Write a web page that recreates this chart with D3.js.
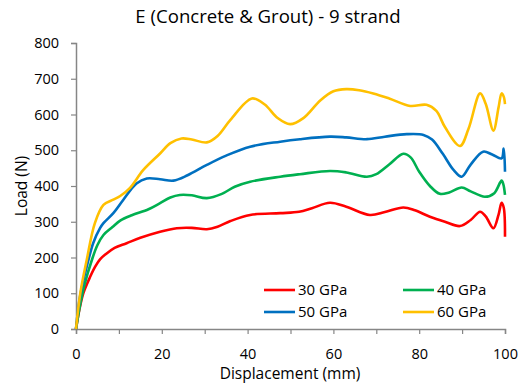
<!DOCTYPE html>
<html>
<head>
<meta charset="utf-8">
<script src="https://cdn.jsdelivr.net/npm/d3@7"></script>
<style>
  body { margin: 0; background: #fff; }
  text { font-family: "Open Sans", Lato, sans-serif; fill: #000; }
</style>
</head>
<body>
<div id="chart"></div>
<script>
// displacement (mm) / load (N)
var x30 = [0, 0.8, 1.7, 3.3, 4.5, 5.6, 7, 9, 11.8, 15, 19.6, 23.5, 27, 30.5, 33, 36, 40.6, 47.6, 52, 55, 59.2, 63, 68.5, 72, 76.3, 79, 82.5, 86, 89.5, 92, 94.2, 95.5, 97.3, 98.5, 99.2, 99.7, 100];
var y30 = [0, 55, 100, 146, 175, 195, 210, 227, 240, 255, 272, 282, 283, 279, 286, 302, 319, 324, 328, 338, 353, 342, 319, 327, 340, 332, 314, 300, 288, 305, 328, 315, 282, 320, 353, 340, 258];

var x40 = [0, 1, 2, 3.7, 5, 6.4, 8.5, 10.3, 13, 16.9, 19.6, 22, 24.2, 27, 30.5, 34, 37, 40.6, 47.6, 52.2, 59.2, 63, 67.8, 70, 73, 76.3, 78, 80, 82.5, 84.8, 87, 89.9, 92, 95.3, 97.5, 99.2, 99.6, 100];
var y40 = [0, 70, 125, 193, 235, 263, 285, 303, 318, 335, 352, 368, 375, 374, 366, 378, 398, 412, 426, 433, 442, 438, 426, 433, 460, 490, 480, 440, 400, 378, 382, 396, 385, 370, 380, 415, 405, 375];

var x50 = [0, 1, 2.9, 4, 5.6, 6.4, 8.7, 11, 14.1, 16.5, 19.6, 22.7, 26, 30.5, 35, 40.6, 47.6, 52.2, 59.2, 63, 67.8, 72, 77.1, 81, 83, 85.5, 88, 89.9, 92, 94.9, 97, 99.2, 99.7, 100];
var y50 = [0, 95, 193, 240, 282, 296, 324, 361, 407, 421, 419, 415, 430, 459, 485, 510, 524, 531, 538, 536, 531, 538, 545, 543, 530, 490, 445, 426, 460, 496, 488, 477, 505, 440];

var x60 = [0, 1, 2.5, 4.4, 6.4, 8.7, 10.3, 12.6, 15.7, 19.6, 22, 24.6, 27, 30.5, 33, 36, 41, 44, 47, 49.9, 53, 57, 60, 63, 66, 69.3, 73, 77.9, 81.7, 84, 86, 89.5, 91.5, 94.2, 95.5, 97.3, 98.5, 99.2, 99.7, 100];
var y60 = [0, 100, 193, 296, 347, 362, 372, 395, 445, 491, 520, 533, 530, 522, 540, 585, 645, 628, 590, 573, 590, 640, 665, 671, 668, 659, 645, 624, 627, 610, 565, 512, 560, 659, 630, 555, 620, 659, 650, 629];

var seriesNames = ["30 GPa", "40 GPa", "50 GPa", "60 GPa"];
var seriesColors = ["#FF0000", "#00B050", "#0070C0", "#FFC000"];
var xTicks = [0, 20, 40, 60, 80, 100];
var yTicks = [0, 100, 200, 300, 400, 500, 600, 700, 800];

var series = [
  {name: seriesNames[0], color: seriesColors[0], xs: x30, ys: y30},
  {name: seriesNames[1], color: seriesColors[1], xs: x40, ys: y40},
  {name: seriesNames[2], color: seriesColors[2], xs: x50, ys: y50},
  {name: seriesNames[3], color: seriesColors[3], xs: x60, ys: y60}
];

var width = 521, height = 388;
var margin = {top: 43, right: 16, bottom: 59, left: 76};

var svg = d3.select("#chart").append("svg")
  .attr("width", width)
  .attr("height", height);

var x = d3.scaleLinear().domain([0, 100]).range([margin.left, width - margin.right]);
var y = d3.scaleLinear().domain([0, 800]).range([height - margin.bottom, margin.top]);

// axes
var xAxis = svg.append("g")
  .attr("transform", "translate(0," + y(0) + ")")
  .call(d3.axisBottom(x).tickValues(d3.range(0, 101, 10)).tickSize(5)
    .tickFormat(function(d) { return xTicks.indexOf(d) >= 0 ? d : ""; }));
var yAxis = svg.append("g")
  .attr("transform", "translate(" + x(0) + ",0)")
  .call(d3.axisLeft(y).tickValues(yTicks).tickSize(5));

[xAxis, yAxis].forEach(function(a) {
  a.select(".domain").attr("stroke", "#868686").attr("stroke-width", 1.5);
  a.selectAll(".tick line").attr("stroke", "#868686").attr("stroke-width", 1.2);
  a.selectAll(".tick text").style("font-size", "14.5px").attr("fill", "#000");
});
xAxis.selectAll(".tick text").attr("dy", null).attr("y", 30);
yAxis.selectAll(".tick text").attr("x", -17);

var line = d3.line()
  .x(function(d) { return x(d[0]); })
  .y(function(d) { return y(d[1]); })
  .curve(d3.curveCatmullRom.alpha(0.5));

svg.selectAll(".series")
  .data(series)
  .enter().append("path")
  .attr("class", "series")
  .attr("fill", "none")
  .attr("stroke", function(d) { return d.color; })
  .attr("stroke-width", 2.6)
  .attr("stroke-linejoin", "round")
  .attr("d", function(d) { return line(d.xs.map(function(v, i) { return [v, d.ys[i]]; })); });

// title and axis labels
svg.append("text")
  .attr("x", 268).attr("y", 23)
  .attr("text-anchor", "middle")
  .style("font-size", "18.6px")
  .text("E (Concrete & Grout) - 9 strand");

svg.append("text")
  .attr("x", 290).attr("y", 379)
  .attr("text-anchor", "middle")
  .style("font-size", "15.5px")
  .text("Displacement (mm)");

svg.append("text")
  .attr("transform", "translate(27," + y(400) + ") rotate(-90)")
  .attr("text-anchor", "middle")
  .style("font-size", "15.5px")
  .text("Load (N)");

// legend, two columns
var legend = svg.selectAll(".legend")
  .data(series)
  .enter().append("g")
  .attr("class", "legend")
  .attr("transform", function(d, i) {
    return "translate(" + (264 + (i % 2) * 139) + "," + (290 + Math.floor(i / 2) * 22) + ")";
  });
legend.append("line")
  .attr("x1", 0).attr("x2", 31)
  .attr("stroke", function(d) { return d.color; })
  .attr("stroke-width", 2.6);
legend.append("text")
  .attr("x", 34).attr("dy", "0.36em")
  .style("font-size", "15px")
  .text(function(d) { return d.name; });
</script>
</body>
</html>
